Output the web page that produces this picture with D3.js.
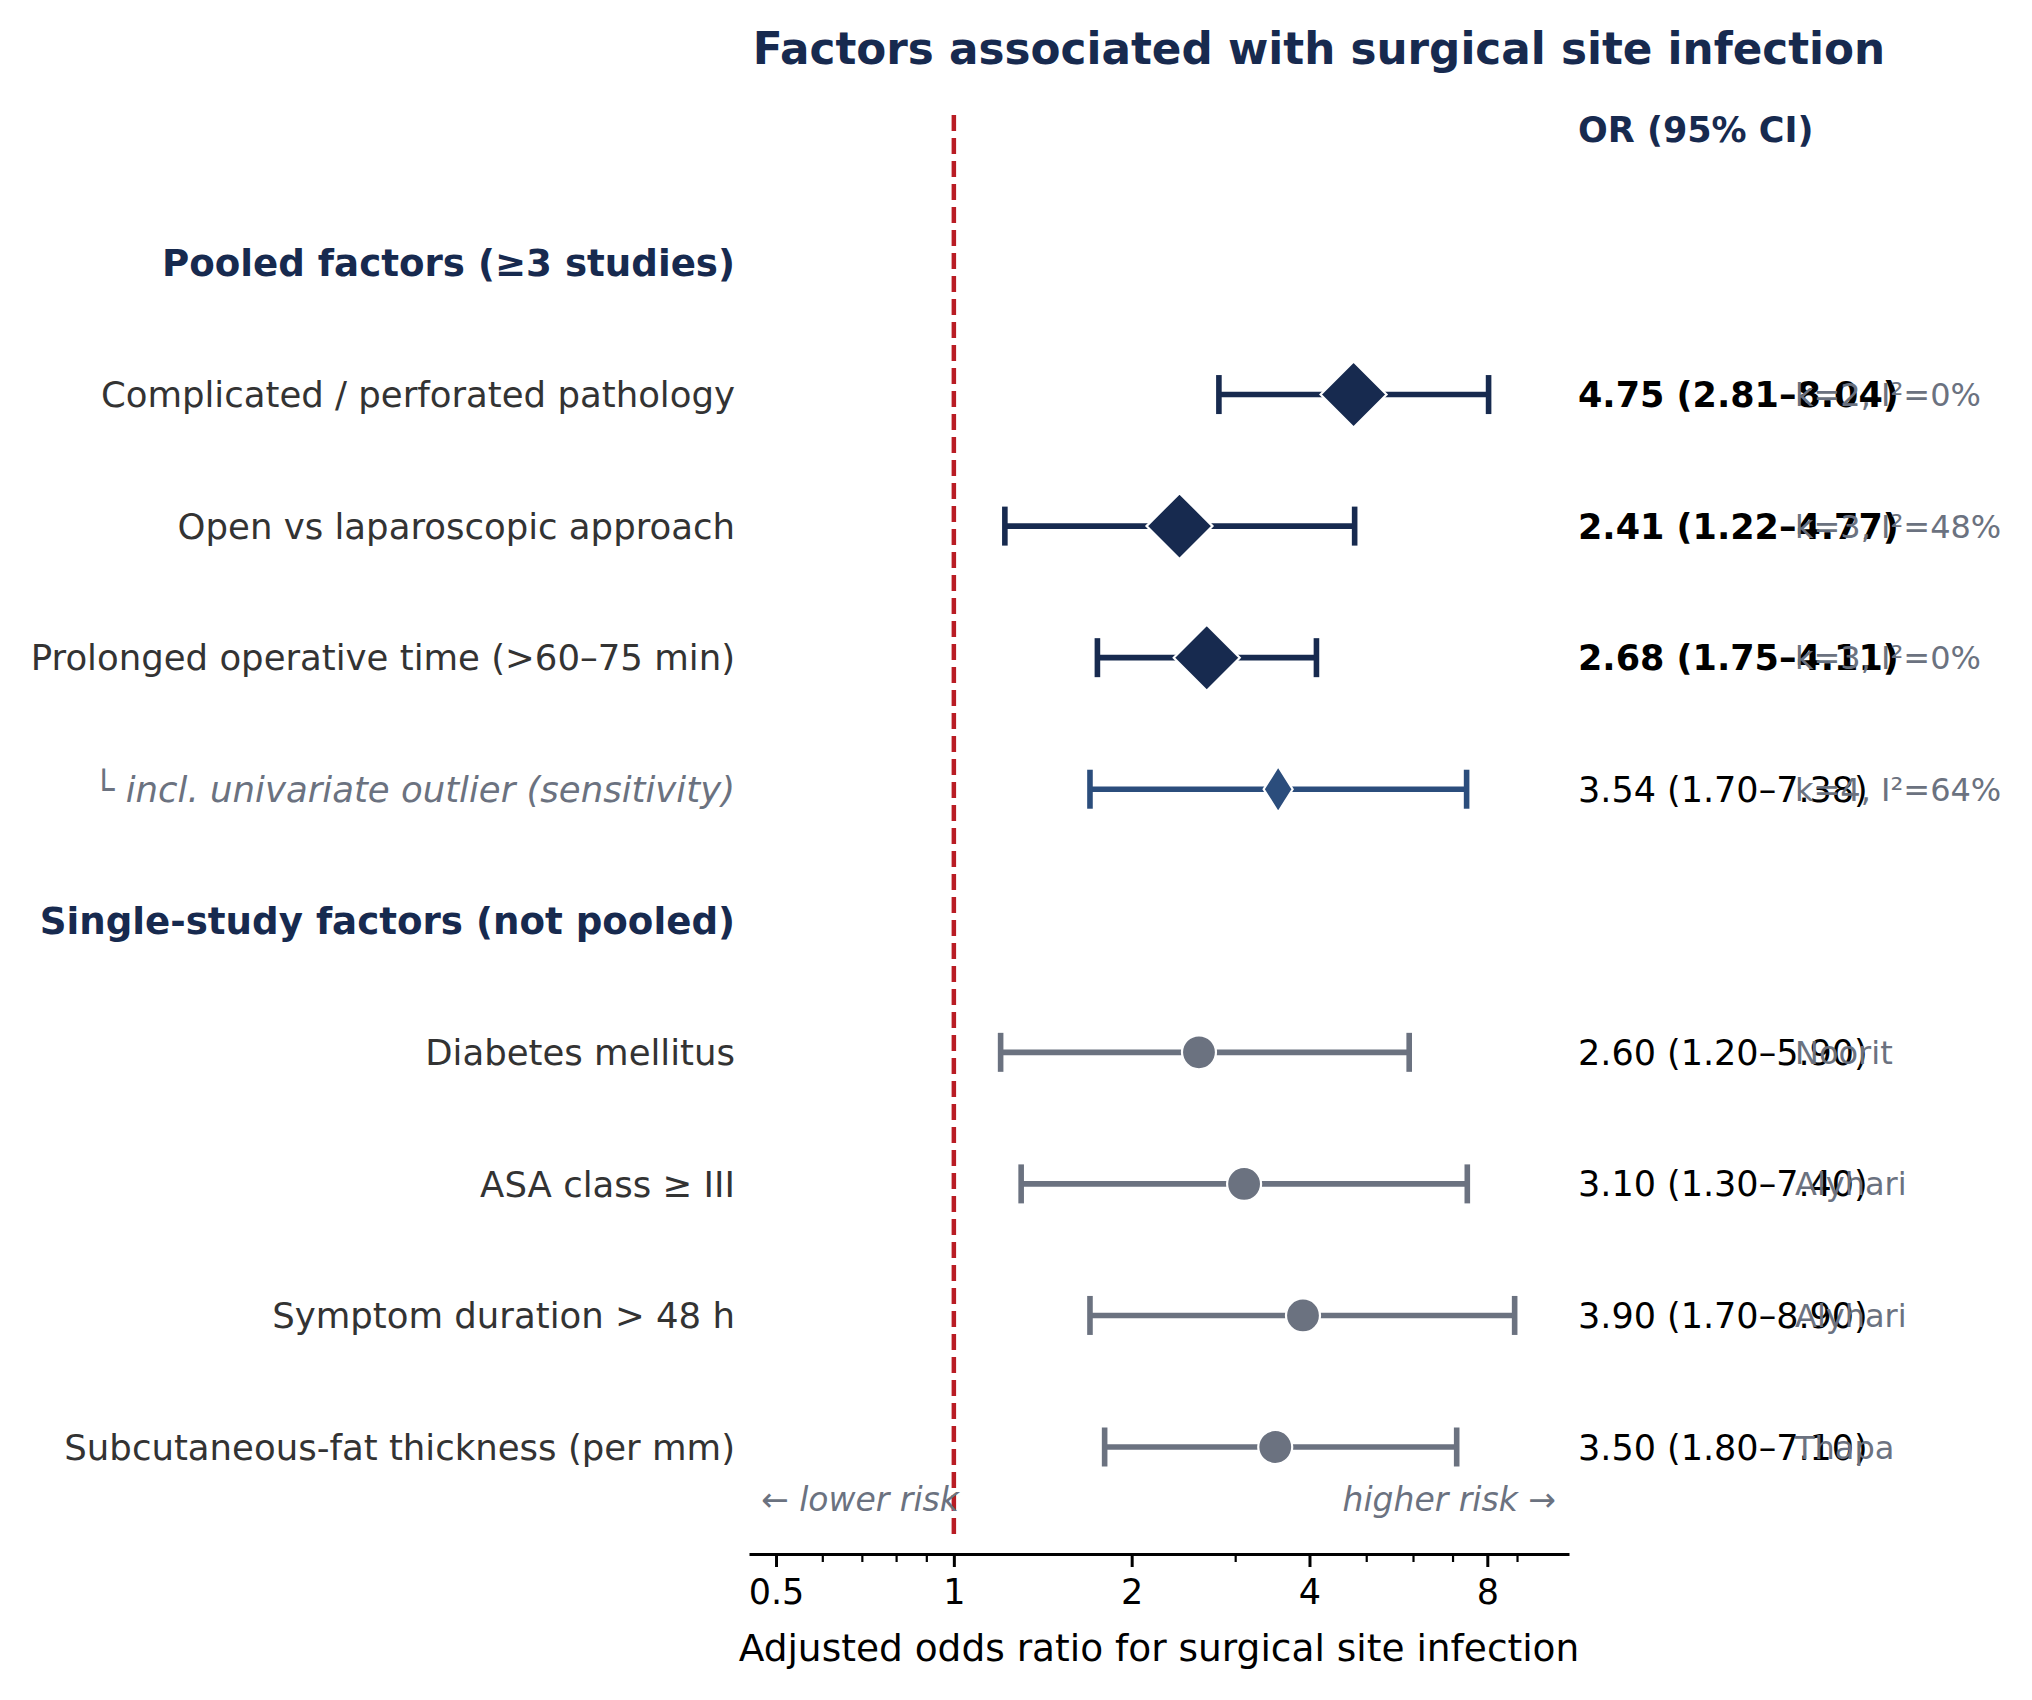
<!DOCTYPE html>
<html>
<head>
<meta charset="utf-8">
<script src="https://cdn.jsdelivr.net/npm/d3@7"></script>
<style>
  body { margin: 0; background: #fff; }
  svg { display: block; font-family: "DejaVu Sans", sans-serif; }
</style>
</head>
<body>
<svg id="chart" width="2032" height="1700"></svg>
<script>
// Rows top to bottom; section headers have no estimate
const labels = [
  "Pooled factors (≥3 studies)",
  "Complicated / perforated pathology",
  "Open vs laparoscopic approach",
  "Prolonged operative time (>60–75 min)",
  "└ incl. univariate outlier (sensitivity)",
  "Single-study factors (not pooled)",
  "Diabetes mellitus",
  "ASA class ≥ III",
  "Symptom duration > 48 h",
  "Subcutaneous-fat thickness (per mm)",
];
const kinds = ["header", "pooled", "pooled", "pooled", "sens", "header", "single", "single", "single", "single"];
const orValues = [null, 4.75, 2.41, 2.68, 3.54, null, 2.60, 3.10, 3.90, 3.50];
const ciLow = [null, 2.81, 1.22, 1.75, 1.70, null, 1.20, 1.30, 1.70, 1.80];
const ciHigh = [null, 8.04, 4.77, 4.11, 7.38, null, 5.90, 7.40, 8.90, 7.10];
const notes = ["", "k=2, I²=0%", "k=3, I²=48%", "k=3, I²=0%", "k=4, I²=64%", "", "Noorit", "Alyhari", "Alyhari", "Thapa"];
const majorTicks = [0.5, 1, 2, 4, 8];

const COLORS = {
  navy: "#172a4f",
  sens: "#2b4d7c",
  gray: "#6b7280",
  red: "#b91c24",
  text: "#333333",
};

const svg = d3.select("#chart");

const x = d3.scaleLog().base(2).domain([0.45, 11]).range([749, 1569]);
const y = d3.scaleLinear().domain([0, 9]).range([263, 1447]);
const axisY = 1554;

const rows = labels.map((label, i) => ({
  i, label, kind: kinds[i], or: orValues[i], lo: ciLow[i], hi: ciHigh[i], note: notes[i],
}));
const estRows = rows.filter(d => d.or !== null);

// Title and column header
svg.append("text")
  .attr("x", 1319).attr("y", 64)
  .attr("text-anchor", "middle")
  .attr("font-size", 43.7).attr("font-weight", "bold")
  .attr("fill", COLORS.navy)
  .text("Factors associated with surgical site infection");

svg.append("text")
  .attr("x", 1578).attr("y", 142)
  .attr("font-size", 35).attr("font-weight", "bold")
  .attr("fill", COLORS.navy)
  .text("OR (95% CI)");

// Reference line at OR = 1
svg.append("line")
  .attr("x1", x(1)).attr("x2", x(1))
  .attr("y1", 115).attr("y2", 1537)
  .attr("stroke", COLORS.red)
  .attr("stroke-width", 4.5)
  .attr("stroke-dasharray", "16 7");

// Row labels
svg.selectAll(".row-label")
  .data(rows)
  .enter()
  .append("text")
  .attr("class", "row-label")
  .attr("x", 735)
  .attr("y", d => y(d.i))
  .attr("dy", "0.36em")
  .attr("text-anchor", "end")
  .attr("font-size", d => d.kind === "header" ? 37.2 : 35.5)
  .attr("font-weight", d => d.kind === "header" ? "bold" : "normal")
  .attr("font-style", d => d.kind === "sens" ? "italic" : "normal")
  .attr("fill", d => d.kind === "header" ? COLORS.navy : d.kind === "sens" ? COLORS.gray : COLORS.text)
  .text(d => d.label);

const colorOf = d => d.kind === "pooled" ? COLORS.navy : d.kind === "sens" ? COLORS.sens : COLORS.gray;

// Error bars
const bars = svg.selectAll(".ci")
  .data(estRows)
  .enter()
  .append("g")
  .attr("class", "ci")
  .attr("stroke", colorOf)
  .attr("stroke-width", 5.6);

bars.append("line")
  .attr("x1", d => x(d.lo)).attr("x2", d => x(d.hi))
  .attr("y1", d => y(d.i)).attr("y2", d => y(d.i));

bars.selectAll(".cap")
  .data(d => [d.lo, d.hi].map(v => ({ v, i: d.i })))
  .enter()
  .append("line")
  .attr("x1", c => x(c.v)).attr("x2", c => x(c.v))
  .attr("y1", c => y(c.i) - 19.5).attr("y2", c => y(c.i) + 19.5);

// Markers
const diamond = (w, h) => `M0,${-h / 2}L${w / 2},0L0,${h / 2}L${-w / 2},0Z`;

svg.selectAll(".marker")
  .data(estRows)
  .enter()
  .append("path")
  .attr("class", "marker")
  .attr("transform", d => `translate(${x(d.or)},${y(d.i)})`)
  .attr("d", d => {
    if (d.kind === "pooled") return diamond(66, 66);
    if (d.kind === "sens") return diamond(29, 46);
    return d3.symbol().type(d3.symbolCircle).size(Math.PI * 17 * 17)();
  })
  .attr("fill", colorOf)
  .attr("stroke", "#fff")
  .attr("stroke-width", 2.2);

// OR (95% CI) column and study notes
const fmt = d3.format(".2f");
svg.selectAll(".or-text")
  .data(estRows)
  .enter()
  .append("text")
  .attr("class", "or-text")
  .attr("x", 1578)
  .attr("y", d => y(d.i))
  .attr("dy", "0.36em")
  .attr("font-size", 35)
  .attr("font-weight", d => d.kind === "pooled" ? "bold" : "normal")
  .attr("fill", "#000")
  .text(d => `${fmt(d.or)} (${fmt(d.lo)}–${fmt(d.hi)})`);

svg.selectAll(".note")
  .data(estRows)
  .enter()
  .append("text")
  .attr("class", "note")
  .attr("x", 1795)
  .attr("y", d => y(d.i))
  .attr("dy", "0.36em")
  .attr("font-size", 32)
  .attr("fill", COLORS.gray)
  .text(d => d.note);

// Direction hints
svg.append("text")
  .attr("x", 761).attr("y", 1511)
  .attr("font-size", 33).attr("font-style", "italic")
  .attr("fill", COLORS.gray)
  .text("← lower risk");

svg.append("text")
  .attr("x", 1556).attr("y", 1511)
  .attr("text-anchor", "end")
  .attr("font-size", 33).attr("font-style", "italic")
  .attr("fill", COLORS.gray)
  .text("higher risk →");

// X axis (log base 2) with base-10 style minor ticks
const [d0, d1] = x.domain();
const minorTicks = [];
[0.1, 1].forEach(dec => {
  d3.range(2, 10).forEach(s => {
    const v = +(s * dec).toFixed(2);
    if (v >= d0 && v <= d1 && !majorTicks.includes(v)) minorTicks.push(v);
  });
});

const axis = svg.append("g")
  .attr("transform", `translate(0,${axisY})`)
  .call(d3.axisBottom(x)
    .tickValues(majorTicks)
    .tickFormat(d => String(d))
    .tickSize(13)
    .tickPadding(12)
    .tickSizeOuter(0));

axis.select(".domain").attr("stroke", "#000").attr("stroke-width", 3);
axis.selectAll(".tick line").attr("stroke", "#000").attr("stroke-width", 3);
axis.selectAll(".tick text")
  .attr("font-size", 35)
  .attr("font-family", "DejaVu Sans, sans-serif")
  .attr("fill", "#000");

axis.selectAll(".minor")
  .data(minorTicks)
  .enter()
  .append("line")
  .attr("class", "minor")
  .attr("x1", d => x(d)).attr("x2", d => x(d))
  .attr("y1", 0).attr("y2", 8)
  .attr("stroke", "#000")
  .attr("stroke-width", 2.2);

svg.append("text")
  .attr("x", (x.range()[0] + x.range()[1]) / 2)
  .attr("y", 1661)
  .attr("text-anchor", "middle")
  .attr("font-size", 37.5)
  .attr("fill", "#000")
  .text("Adjusted odds ratio for surgical site infection");
</script>
</body>
</html>
